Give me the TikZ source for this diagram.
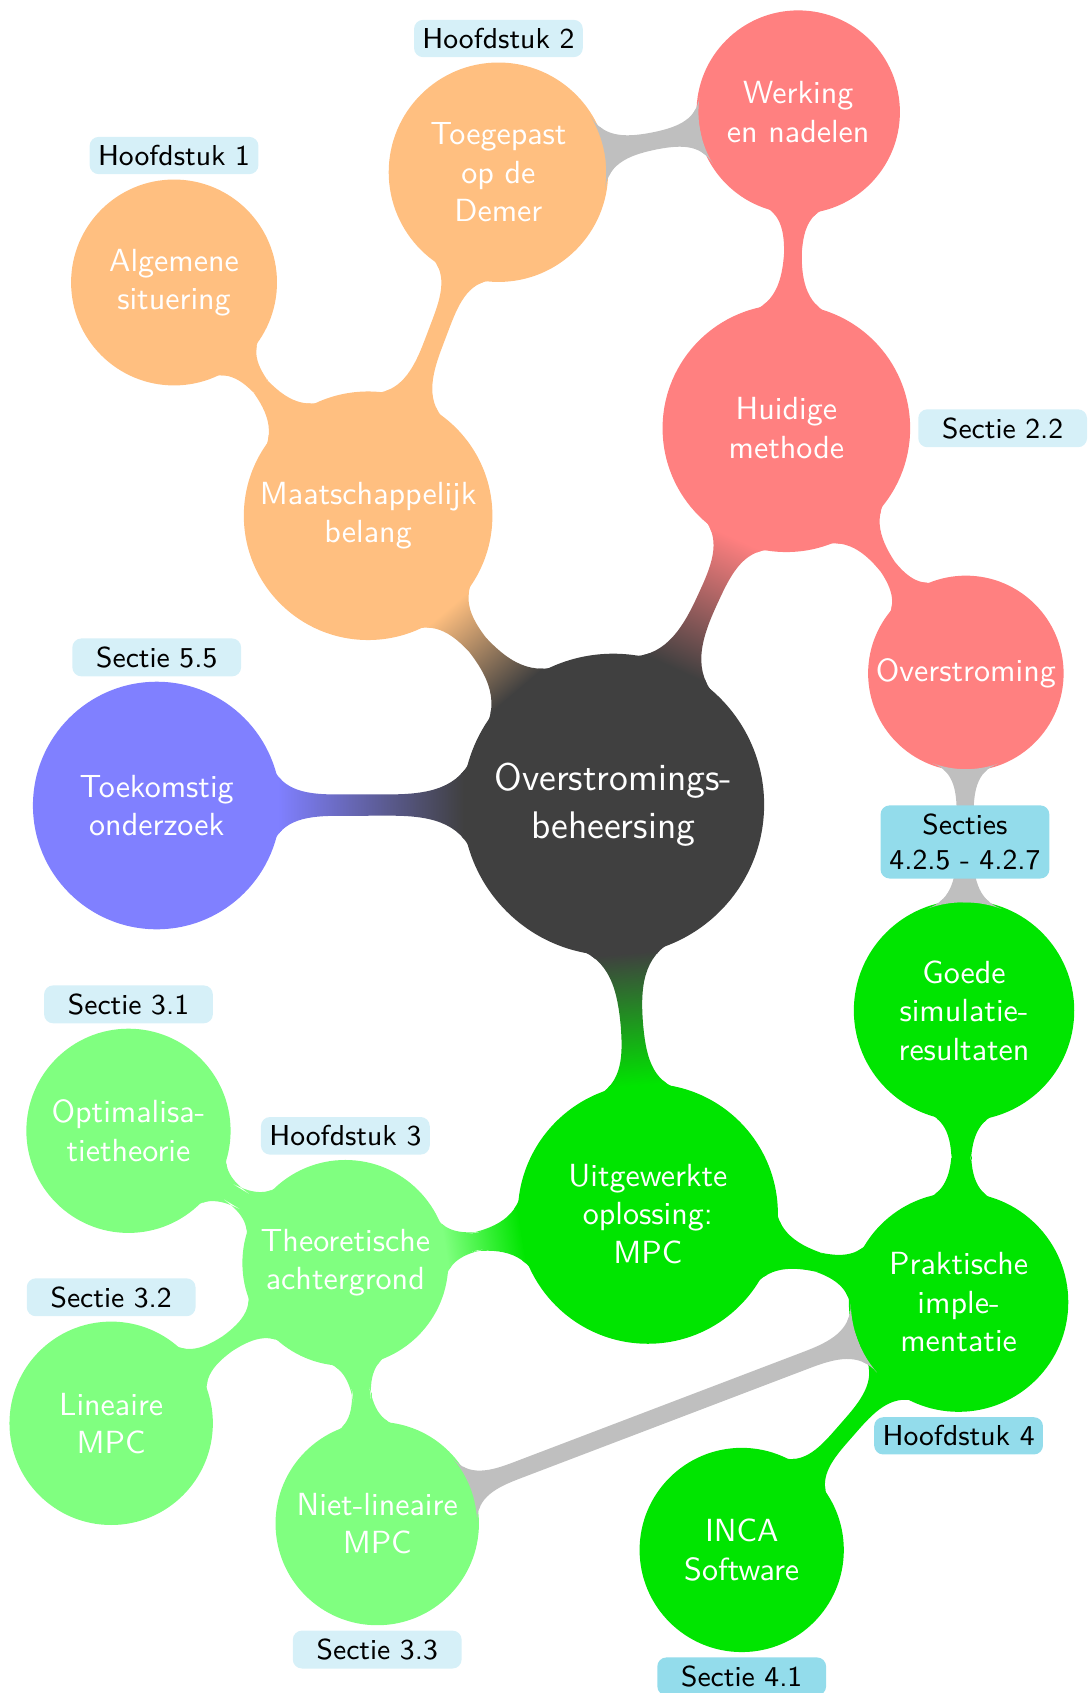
\documentclass[tikz,border=0pt]{standalone}
\usepackage{tikz}
\usetikzlibrary{mindmap,positioning,calc}
\colorlet{colRoot}{black!75}
\colorlet{colSoc}{orange!50}
\colorlet{colCur}{red!50}
\colorlet{colFut}{blue!50}
\colorlet{colSol}{green!90!black}
\colorlet{colTheo}{green!50}
\colorlet{colLink}{gray!50}
\definecolor{colTag}{HTML}{D6F0F8}
\definecolor{colTagD}{HTML}{93DCEB}

\begin{document}
\begin{tikzpicture}[mindmap, font=\sffamily, node distance=0.8mm,
  cen/.style={concept, concept color=colRoot, text=white, minimum size=3.27cm, text width=2.8cm, inner sep=1pt, font=\sffamily\fontsize{12}{15}\selectfont},
  big/.style={concept, text=white, minimum size=2cm, text width=2.5cm, inner sep=1pt, font=\sffamily\normalsize},
  sml/.style={concept, text=white, minimum size=2cm, text width=2cm, inner sep=1pt, font=\sffamily\normalsize},
  lbl/.style={rectangle, rounded corners=1mm, fill=colTag, text=black, minimum size=0pt, text width=1.67cm, inner sep=2.6pt, align=center, font=\sffamily\small},
  lbld/.style={lbl, fill=colTagD}]
\useasboundingbox (0,0) rectangle (11.93,-18.58);
\node[cen] (kern) at (6.73,-8.83) {Overstromings-\\beheersing};
\node[concept color=colSoc, big] (maat) at (4.04,-5.66) {Maatschappelijk\\belang};
\node[concept color=colSoc, sml] (alg) at (1.91,-3.10) {Algemene\\situering};
\node[concept color=colSoc, sml] (dem) at (5.47,-1.89) {Toegepast\\op de\\Demer};
\node[concept color=colCur, big] (huid) at (8.63,-4.70) {Huidige\\methode};
\node[concept color=colCur, sml] (werk) at (8.76,-1.23) {Werking\\en nadelen};
\node[concept color=colCur, sml] (ovr) at (10.60,-7.39) {Overstroming};
\node[concept color=colFut, big] (toek) at (1.72,-8.84) {Toekomstig\\onderzoek};
\node[concept color=colSol, big] (uitw) at (7.11,-13.32) {Uitgewerkte\\oplossing:\\MPC};
\node[concept color=colTheo, sml] (theo) at (3.79,-13.86) {Theoretische\\achtergrond};
\node[concept color=colTheo, sml] (opt) at (1.41,-12.41) {Optimalisa-\\tietheorie};
\node[concept color=colTheo, sml] (lin) at (1.22,-15.62) {Lineaire\\MPC};
\node[concept color=colTheo, sml] (nlin) at (4.14,-16.72) {Niet-lineaire\\MPC};
\node[concept color=colSol, sml] (prak) at (10.52,-14.29) {Praktische\\imple-\\mentatie};
\node[concept color=colSol, sml] (goed) at (10.58,-11.09) {Goede\\simulatie-\\resultaten};
\node[concept color=colSol, sml] (inca) at (8.14,-17.01) {INCA\\Software};
\foreach \a/\b/\ca/\cb in {kern/maat/colRoot/colSoc, maat/alg/colSoc/colSoc, maat/dem/colSoc/colSoc,
    kern/huid/colRoot/colCur, huid/werk/colCur/colCur, huid/ovr/colCur/colCur,
    kern/toek/colRoot/colFut, kern/uitw/colRoot/colSol, uitw/theo/colSol/colTheo,
    theo/opt/colTheo/colTheo, theo/lin/colTheo/colTheo, theo/nlin/colTheo/colTheo,
    uitw/prak/colSol/colSol, prak/goed/colSol/colSol, prak/inca/colSol/colSol}
  \path (\a) to[circle connection bar switch color=from (\ca) to (\cb)] (\b);
\foreach \a/\b in {dem/werk, ovr/goed, nlin/prak}
  \path (\a) to[circle connection bar switch color=from (colLink) to (colLink)] (\b);
\node[lbl, above=of alg] (h1) {Hoofdstuk 1};
\node[lbl, above=of dem] (h2) {Hoofdstuk 2};
\node[lbl, right=1.1mm of huid] (s22) {Sectie 2.2};
\node[lbl, above=of toek] (s55) {Sectie 5.5};
\node[lbld] (s425) at ($(ovr)!0.5!(goed)$) {Secties\\4.2.5 - 4.2.7};
\node[lbl, above=of opt] (s31) {Sectie 3.1};
\node[lbl, above=of theo] (h3) {Hoofdstuk 3};
\node[lbl, above=of lin] (s32) {Sectie 3.2};
\node[lbl, below=of nlin] (s33) {Sectie 3.3};
\node[lbld, below=of prak] (h4) {Hoofdstuk 4};
\node[lbld, below=of inca] (s41) {Sectie 4.1};
\end{tikzpicture}
\end{document}
